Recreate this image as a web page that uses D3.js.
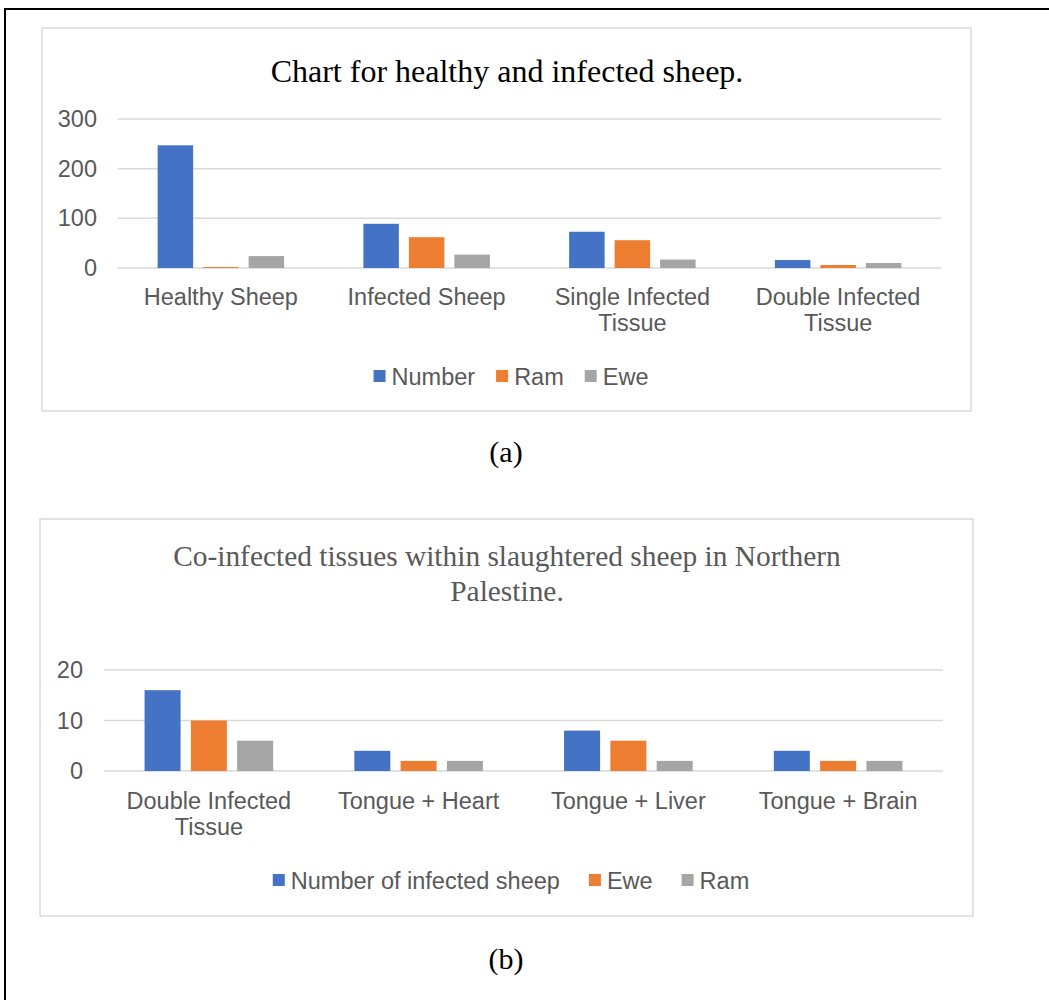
<!DOCTYPE html>
<html>
<head>
<meta charset="utf-8">
<script src="https://cdn.jsdelivr.net/npm/d3@7"></script>
<style>
  html, body { margin: 0; padding: 0; background: #fff; }
  svg { display: block; }
</style>
</head>
<body>
<svg id="chart" width="1049" height="1000"></svg>
<script>
// ---- Data: chart (a) ----
const categoriesA = [["Healthy Sheep"], ["Infected Sheep"], ["Single Infected", "Tissue"], ["Double Infected", "Tissue"]];
const seriesNamesA = ["Number", "Ram", "Ewe"];
const numberA = [247, 89, 73, 16];
const ramA = [2, 62, 56, 6];
const eweA = [24, 27, 17, 10];
const ticksA = [0, 100, 200, 300];

// ---- Data: chart (b) ----
const categoriesB = [["Double Infected", "Tissue"], ["Tongue + Heart"], ["Tongue + Liver"], ["Tongue + Brain"]];
const seriesNamesB = ["Number of infected sheep", "Ewe", "Ram"];
const numberB = [16, 4, 8, 4];
const eweB = [10, 2, 6, 2];
const ramB = [6, 2, 2, 2];
const ticksB = [0, 10, 20];

const colors = ["#4472C4", "#ED7D31", "#A5A5A5"];
const sansFont = "'Liberation Sans', Arial, sans-serif";
const serifFont = "'Liberation Serif', 'Times New Roman', serif";
const textGray = "#595959";
const gridGray = "#d9d9d9";

const svg = d3.select("#chart");

// outer black frame
svg.append("rect").attr("x", 5).attr("y", 9).attr("width", 1100).attr("height", 1100)
  .attr("fill", "none").attr("stroke", "#000").attr("stroke-width", 2);

function drawChart(cfg) {
  const g = svg.append("g");
  g.append("rect").attr("x", cfg.box[0]).attr("y", cfg.box[1])
    .attr("width", cfg.box[2] - cfg.box[0]).attr("height", cfg.box[3] - cfg.box[1])
    .attr("fill", "#fff").attr("stroke", gridGray).attr("stroke-width", 1.5);

  const title = g.append("text").attr("text-anchor", "middle")
    .attr("font-family", serifFont).attr("font-size", cfg.titleSize).attr("fill", cfg.titleColor);
  cfg.title.forEach((line, i) => {
    title.append("tspan").attr("x", cfg.titleX).attr("y", cfg.titleY + i * cfg.titleLH).text(line);
  });

  const y = d3.scaleLinear().domain(cfg.yDomain).range(cfg.yRange);
  const x0 = d3.scaleBand().domain(d3.range(cfg.categories.length))
    .range(cfg.xRange).paddingInner(cfg.outerPad).paddingOuter(cfg.outerPad / 2);
  const x1 = d3.scaleBand().domain(d3.range(cfg.series.length))
    .range([0, x0.bandwidth()]).paddingInner(cfg.innerPad);

  g.append("g").selectAll("line").data(cfg.ticks).join("line")
    .attr("x1", cfg.xRange[0]).attr("x2", cfg.xRange[1])
    .attr("y1", d => y(d)).attr("y2", d => y(d))
    .attr("stroke", gridGray).attr("stroke-width", 1.5);

  const yAxis = d3.axisLeft(y).tickValues(cfg.ticks).tickSize(0).tickPadding(21);
  const ya = g.append("g").attr("transform", `translate(${cfg.xRange[0]},0)`).call(yAxis);
  ya.select(".domain").remove();
  ya.selectAll("text").attr("font-family", sansFont).attr("font-size", 23.5).attr("fill", textGray);

  cfg.series.forEach((vals, si) => {
    g.append("g").selectAll("rect").data(vals).join("rect")
      .attr("x", (d, i) => x0(i) + x1(si))
      .attr("y", d => y(d))
      .attr("width", x1.bandwidth())
      .attr("height", d => y(0) - y(d))
      .attr("fill", colors[si]);
  });

  cfg.categories.forEach((lines, i) => {
    const t = g.append("text").attr("text-anchor", "middle")
      .attr("font-family", sansFont).attr("font-size", 23.5).attr("fill", textGray);
    lines.forEach((line, li) => {
      t.append("tspan").attr("x", x0(i) + x0.bandwidth() / 2)
        .attr("y", cfg.catY + li * 26).text(line);
    });
  });

  const lg = g.append("g");
  let cx = 0;
  cfg.seriesNames.forEach((name, si) => {
    lg.append("rect").attr("x", cx).attr("y", -6).attr("width", 12).attr("height", 12).attr("fill", colors[si]);
    const t = lg.append("text").attr("x", cx + 18).attr("y", 8.5)
      .attr("font-family", sansFont).attr("font-size", 23.5).attr("fill", textGray).text(name);
    cx += 18 + t.node().getComputedTextLength() + cfg.legendGap;
  });
  const lw = cx - cfg.legendGap;
  lg.attr("transform", `translate(${cfg.legendCX - lw / 2},${cfg.legendY})`);

  svg.append("text").attr("x", cfg.capX).attr("y", cfg.capY).attr("text-anchor", "middle")
    .attr("font-family", serifFont).attr("font-size", 30).attr("fill", "#000").text(cfg.caption);
}

drawChart({
  box: [42, 28, 971, 411],
  title: ["Chart for healthy and infected sheep."],
  titleSize: 32, titleColor: "#000", titleX: 507, titleY: 82, titleLH: 35,
  yDomain: [0, 300], yRange: [268, 119], ticks: ticksA,
  xRange: [118, 941],
  outerPad: 1 - 126.5 / 205.75, innerPad: 10 / 45.5,
  series: [numberA, ramA, eweA], seriesNames: seriesNamesA,
  categories: categoriesA, catY: 305,
  legendCX: 511, legendY: 376, legendGap: 21,
  caption: "(a)", capX: 506, capY: 462
});

drawChart({
  box: [40, 519, 973, 916],
  title: ["Co-infected tissues within slaughtered sheep in Northern", "Palestine."],
  titleSize: 29.4, titleColor: textGray, titleX: 507, titleY: 566, titleLH: 35,
  yDomain: [0, 20], yRange: [771, 670], ticks: ticksB,
  xRange: [104, 943],
  outerPad: 1 - 128.6 / 209.75, innerPad: 10.3 / 46.3,
  series: [numberB, eweB, ramB], seriesNames: seriesNamesB,
  categories: categoriesB, catY: 809,
  legendCX: 511, legendY: 880, legendGap: 29,
  caption: "(b)", capX: 506, capY: 969
});
</script>
</body>
</html>
